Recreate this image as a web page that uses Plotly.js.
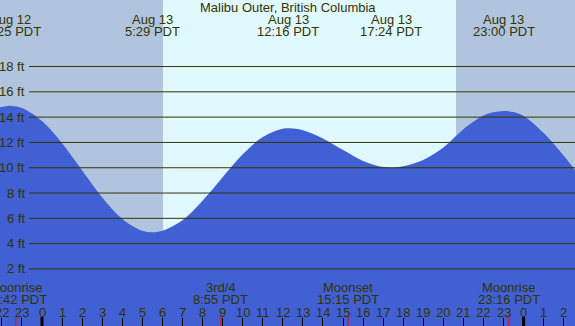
<!DOCTYPE html>
<html>
<head>
<meta charset="utf-8">
<script src="https://cdn.plot.ly/plotly-3.0.1.min.js"></script>
<style>html,body{margin:0;padding:0;background:#fff;}#chart{width:575px;height:326px;}</style>
</head>
<body>
<div id="chart"></div>
<script>
// Hours relative to Aug 13 00:00 PDT
const tideHours = [-2.5, -2, -1.5, -1, 0, 1, 2, 3, 4, 5, 5.5, 6, 7, 8, 9, 10, 11, 12, 12.5, 13, 14, 15, 16, 17, 17.5, 18, 19, 20, 21, 22, 22.5, 23, 23.5, 24, 25, 26, 27];
const tideFeet  = [14.62, 14.80, 14.89, 14.72, 13.70, 11.94, 9.79, 7.65, 5.95, 5.02, 4.90, 5.02, 5.85, 7.39, 9.25, 11.06, 12.43, 13.09, 13.10, 12.97, 12.32, 11.40, 10.54, 10.05, 10.0, 10.12, 10.62, 11.60, 13.05, 14.12, 14.38, 14.49, 14.40, 14.10, 12.75, 10.95, 8.9];

const extremeHours = [-1.583, 5.483, 12.267, 17.4, 23.0];
const extremeDates = ["Aug 12", "Aug 13", "Aug 13", "Aug 13", "Aug 13"];
const extremeTimes = ["22:25 PDT", "5:29 PDT", "12:16 PDT", "17:24 PDT", "23:00 PDT"];

const moonHours = [-1.3, 8.917, 15.25, 23.267];
const moonNames = ["Moonrise", "3rd/4", "Moonset", "Moonrise"];
const moonTimes = ["22:42 PDT", "8:55 PDT", "15:15 PDT", "23:16 PDT"];

const nightSpans = [[-2.093, 6.03], [20.63, 26.56]];
const midnightHours = [0, 24];

const hourTicks  = [-2, -1, 0, 1, 2, 3, 4, 5, 6, 7, 8, 9, 10, 11, 12, 13, 14, 15, 16, 17, 18, 19, 20, 21, 22, 23, 24, 25, 26];
const hourLabels = ["22","23","0","1","2","3","4","5","6","7","8","9","10","11","12","13","14","15","16","17","18","19","20","21","22","23","0","1","2"];

const feetTicks  = [2, 4, 6, 8, 10, 12, 14, 16, 18];
const feetLabels = ["2 ft","4 ft","6 ft","8 ft","10 ft","12 ft","14 ft","16 ft","18 ft"];

const xRange = [-2.093, 26.56];
const yRange = [-2.51, 23.26];
const W = 575, H = 326;
const FONT = "Liberation Sans, Arial, sans-serif";
const TXT = "#333300";
const WATER = "rgb(64,96,212)";

const traces = [
  {x: [-3, 28], y: [-4, -4], mode: "lines", line: {width: 0, color: WATER}, hoverinfo: "skip", showlegend: false},
  {x: tideHours, y: tideFeet, mode: "lines", line: {shape: "spline", smoothing: 1, width: 0, color: WATER},
   fill: "tonexty", fillcolor: WATER, hoverinfo: "skip", showlegend: false}
];

const shapes = [];
nightSpans.forEach(s => shapes.push({type: "rect", xref: "x", yref: "paper", x0: s[0], x1: s[1], y0: 0, y1: 1,
  fillcolor: "#b0c4de", line: {width: 0}, layer: "below"}));
feetTicks.forEach(f => shapes.push({type: "line", xref: "paper", yref: "y", x0: 29 / W, x1: 1, y0: f, y1: f,
  line: {color: TXT, width: 1}, layer: "above"}));
midnightHours.forEach(h => shapes.push({type: "line", xref: "x", yref: "paper", x0: h, x1: h, y0: 0, y1: 9 / H,
  line: {color: "#000", width: 3}, layer: "above"}));
moonHours.forEach(h => shapes.push({type: "line", xref: "x", yref: "paper", x0: h, x1: h, y0: 0, y1: 11 / H,
  line: {color: "#ff0000", width: 1}, layer: "above"}));

const annotations = [];
const ann = (x, xref, ypix, text, extra) => Object.assign({x: x, xref: xref, y: 1 - ypix / H, yref: "paper",
  text: text, showarrow: false, xanchor: "center", yanchor: "middle",
  font: {family: FONT, size: 13, color: TXT}}, extra || {});

annotations.push(ann(0.5, "paper", 7.5, "Malibu Outer, British Columbia"));
extremeHours.forEach((h, i) => {
  annotations.push(ann(h, "x", 19.5, extremeDates[i]));
  annotations.push(ann(h, "x", 32, extremeTimes[i]));
});
moonHours.forEach((h, i) => {
  annotations.push(ann(h, "x", 287, moonNames[i]));
  annotations.push(ann(h, "x", 299.5, moonTimes[i]));
});
hourTicks.forEach((h, i) => annotations.push(ann(h, "x", 312, hourLabels[i])));
feetTicks.forEach((f, i) => annotations.push({x: 27 / W, xref: "paper", y: f, yref: "y", text: feetLabels[i],
  showarrow: false, xanchor: "right", yanchor: "middle", font: {family: FONT, size: 13, color: TXT}}));

const layout = {
  width: W, height: H,
  margin: {l: 0, r: 0, t: 0, b: 0, pad: 0},
  paper_bgcolor: "#e0f8ff", plot_bgcolor: "#e0f8ff",
  showlegend: false,
  xaxis: {range: xRange, tickvals: hourTicks, ticks: "inside", ticklen: 8, tickwidth: 1, tickcolor: "#000",
          showticklabels: false, showgrid: false, zeroline: false, showline: false, fixedrange: true},
  yaxis: {range: yRange, showticklabels: false, showgrid: false, zeroline: false, showline: false, ticks: "", fixedrange: true},
  shapes: shapes,
  annotations: annotations
};

Plotly.newPlot("chart", traces, layout, {staticPlot: true, displayModeBar: false});
</script>
</body>
</html>
